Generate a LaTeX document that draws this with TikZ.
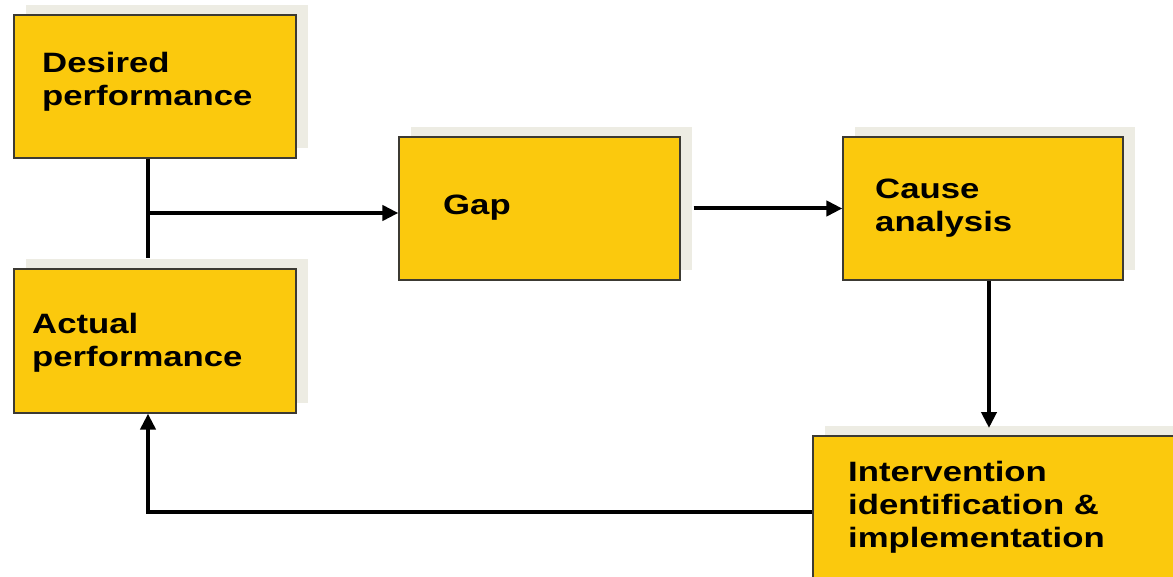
\documentclass[tikz,border=0pt]{standalone}
\usepackage{fontspec}
\newfontfamily\boxfont{Liberation Sans Bold}[FakeStretch=1.24]
\usetikzlibrary{arrows.meta,shadows}
\definecolor{boxyellow}{HTML}{FBC90D}
\definecolor{boxborder}{HTML}{3C3A33}
\definecolor{shadowc}{HTML}{EDECE3}
\tikzset{
  box/.style={draw=boxborder, line width=1.2pt, fill=boxyellow, rectangle, inner sep=0pt,
    general shadow={fill=shadowc, draw=none, shadow xshift=12pt, shadow yshift=10pt}},
  label/.style={anchor=north west, inner sep=0pt, align=left,
    font=\boxfont\fontsize{28}{33}\selectfont, text=black},
  conn/.style={line width=4pt, draw=black},
  arr/.style={conn, -{Triangle[length=16pt,width=15pt]}}
}
\begin{document}
\begin{tikzpicture}[x=1pt,y=-1pt]
\useasboundingbox (0,0) rectangle (1173,577);
\clip (0,0) rectangle (1173,577);
\fill[white] (0,0) rectangle (1173,577);
% boxes
\node[box, minimum width=282pt, minimum height=143pt] (des) at (155,86.5) {};
\node[box, minimum width=282pt, minimum height=144pt] (act) at (155,341) {};
\node[box, minimum width=281pt, minimum height=143pt] (gap) at (539.5,208.5) {};
\node[box, minimum width=280pt, minimum height=143pt] (cau) at (983,208.5) {};
\node[box, minimum width=380pt, minimum height=164pt] (int) at (1003,518) {};
% texts
\node[label] (tdes) at (42,52) {Desired\\performance};
\node[label] (tact) at (32,313) {Actual\\performance};
\node[label] (tgap) at (443,195) {Gap};
\node[label] (tcau) at (875,179) {Cause\\analysis};
\node[label] (tint) at (848,461) {Intervention\\identification \&\\implementation};
% junctions
\coordinate (jt) at (148,213);
\coordinate (jb) at (148,258);
\coordinate (ci) at (989,428);
\coordinate (lc) at (148,512);
% connectors
\draw[conn] (des.south -| jt) -- (jb);
\draw[arr] (jt) -- (jt -| gap.west);
\draw[arr] ([xshift=13pt]gap.east) -- (cau.west);
\draw[arr] (cau.south -| ci) -- (ci);
\draw[arr] (int.west |- lc) -- (lc) -- (act.south -| lc);
\end{tikzpicture}
\end{document}
